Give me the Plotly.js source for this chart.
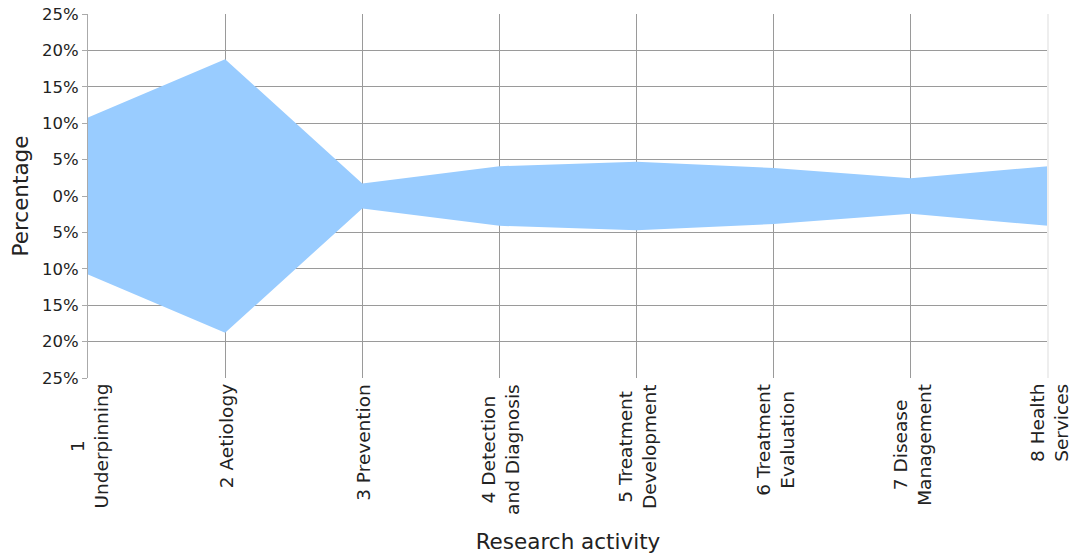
<!DOCTYPE html>
<html>
<head>
<meta charset="utf-8">
<script src="https://cdn.plot.ly/plotly-3.0.1.min.js"></script>
<style>
  html, body { margin: 0; padding: 0; background: #ffffff; }
  #chart { width: 1072px; height: 558px; }
</style>
</head>
<body>
<div id="chart"></div>
<script>
// Research activity categories (tick labels)
var categories = [
  "1<br>Underpinning",
  "2 Aetiology",
  "3 Prevention",
  "4 Detection<br>and Diagnosis",
  "5 Treatment<br>Development",
  "6 Treatment<br>Evaluation",
  "7 Disease<br>Management",
  "8 Health<br>Services"
];
// Percentage share of each research activity (drawn symmetrically about 0)
var percentages = [10.8, 18.8, 1.7, 4.1, 4.7, 3.85, 2.45, 4.1];

// Y axis ticks
var yTickVals = [-25, -20, -15, -10, -5, 0, 5, 10, 15, 20, 25];
var yTickText = ["25%", "20%", "15%", "10%", "5%", "0%", "5%", "10%", "15%", "20%", "25%"];

var idx = categories.map(function (_, i) { return i; });
var upper = percentages.slice();
var lower = percentages.map(function (v) { return -v; });

var polyX = idx.concat(idx.slice().reverse());
var polyY = upper.concat(lower.slice().reverse());

var trace = {
  x: polyX,
  y: polyY,
  type: "scatter",
  mode: "lines",
  fill: "toself",
  fillcolor: "#99CCFF",
  line: { width: 0, color: "#99CCFF" },
  hoverinfo: "skip",
  showlegend: false
};

var font = "DejaVu Sans, Verdana, sans-serif";
var textColor = "#222222";

// Category labels as rotated annotations (lines centred like the original)
var labelAnnotations = categories.map(function (c, i) {
  return {
    x: i, xref: "x",
    y: 0, yref: "paper",
    text: c,
    showarrow: false,
    textangle: -90,
    align: "center",
    xanchor: "center",
    yanchor: "top",
    yshift: -4,
    xshift: 1,
    font: { family: font, size: 18.5, color: textColor }
  };
});

var layout = {
  width: 1072,
  height: 558,
  margin: { l: 88, r: 24, t: 14, b: 180 },
  paper_bgcolor: "#ffffff",
  plot_bgcolor: "#ffffff",
  showlegend: false,
  xaxis: {
    range: [0, idx.length - 1],
    tickmode: "array",
    tickvals: idx,
    showticklabels: false,
    showgrid: true,
    gridcolor: "#9a9a9a",
    gridwidth: 1,
    zeroline: false,
    showline: false,
    ticks: "",
    title: { text: "Research activity", font: { family: font, size: 21.5, color: textColor }, standoff: 155 },
    fixedrange: true
  },
  yaxis: {
    range: [-25, 25],
    tickmode: "array",
    tickvals: yTickVals,
    ticktext: yTickText,
    showgrid: true,
    gridcolor: "#9a9a9a",
    gridwidth: 1,
    zeroline: false,
    showline: true,
    linecolor: "#aaaaaa",
    linewidth: 1,
    ticks: "outside",
    ticklen: 5,
    tickcolor: "#aaaaaa",
    tickfont: { family: font, size: 16.5, color: textColor },
    title: { text: "Percentage", font: { family: font, size: 21.5, color: textColor }, standoff: 7 },
    fixedrange: true
  },
  annotations: labelAnnotations,
  shapes: [
    { type: "line", xref: "paper", yref: "paper", x0: 1, x1: 1, y0: 0, y1: 1,
      line: { color: "#eeeeee", width: 2 }, layer: "above" }
  ]
};

Plotly.newPlot("chart", [trace], layout, { displayModeBar: false, staticPlot: true });
</script>
</body>
</html>
